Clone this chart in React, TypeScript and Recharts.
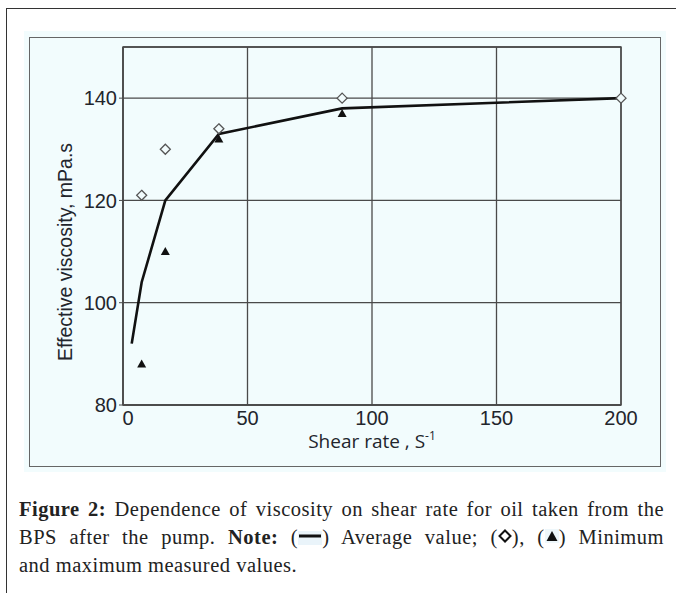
import React from "react"
import { ComposedChart, Line, Scatter, XAxis, YAxis, CartesianGrid, ReferenceArea } from "recharts"

// Average viscosity curve (solid line)
const avgShear = [3.5, 7.5, 17, 38.5, 88, 200]
const avgVisc = [92, 104, 120, 133, 138, 140]

// Maximum measured values (open diamonds)
const maxShear = [7.5, 17, 38.5, 88, 200]
const maxVisc = [121, 130, 134, 140, 140]

// Minimum measured values (filled triangles)
const minShear = [7.5, 17, 38.5, 88]
const minVisc = [88, 110, 132, 137]

const xTicks = [0, 50, 100, 150, 200]
const yTicks = [80, 100, 120, 140]

const avgData = avgShear.map((x, i) => ({ x, y: avgVisc[i] }))
const maxData = maxShear.map((x, i) => ({ x, y: maxVisc[i] }))
const minData = minShear.map((x, i) => ({ x, y: minVisc[i] }))

const gridColor = "#4a4a4a"
const textColor = "#22252c"

const Diamond = (props: any) => {
  const { cx, cy } = props
  const r = 5
  return (
    <path
      d={`M${cx},${cy - r} L${cx + r},${cy} L${cx},${cy + r} L${cx - r},${cy} Z`}
      fill="#f2fcfd"
      stroke="#555"
      strokeWidth={1.3}
    />
  )
}

const Triangle = (props: any) => {
  const { cx, cy } = props
  return <path d={`M${cx},${cy - 4.5} L${cx + 4.5},${cy + 3.5} L${cx - 4.5},${cy + 3.5} Z`} fill="#111" />
}

const XTitle = () => (
  <text x={372} y={448} textAnchor="middle" fontFamily="'Open Sans', sans-serif" fontSize={19} fill={textColor}>
    Shear rate , S
    <tspan fontSize={12} dy={-8}>-1</tspan>
  </text>
)

const YTitle = () => (
  <text
    x={72}
    y={252}
    transform="rotate(-90 72 252)"
    textAnchor="middle"
    fontFamily="'Liberation Sans', Arial, sans-serif"
    fontSize={19.5}
    fill={textColor}
  >
    Effective viscosity, mPa.s
  </text>
)

const XTick = (props: any) => {
  const { x, y, payload } = props
  // first label sits a little to the right of its tick, as in the source figure
  const shift = payload.value === 0 ? 5 : 0
  return (
    <text
      x={x + shift}
      y={y + 14}
      textAnchor="middle"
      fill={textColor}
      fontSize={20}
      fontFamily="'Liberation Sans', Arial, sans-serif"
    >
      {payload.value}
    </text>
  )
}

function Chart() {
  return (
    <ComposedChart width={676} height={470} margin={{ top: 47, right: 55, bottom: 0, left: 0 }}>
      <CartesianGrid stroke={gridColor} strokeWidth={1.3} fill="none" />
      <ReferenceArea x1={0} x2={200} y1={80} y2={150} fill="none" stroke={gridColor} strokeWidth={1.4} />
      <XAxis
        type="number"
        dataKey="x"
        domain={[0, 200]}
        ticks={xTicks}
        height={65}
        tickLine={false}
        axisLine={{ stroke: gridColor, strokeWidth: 1.4 }}
        tick={<XTick />}
        tickMargin={0}
        label={{ content: () => <XTitle /> }}
      />
      <YAxis
        type="number"
        dataKey="y"
        domain={[80, 150]}
        ticks={yTicks}
        width={123}
        tickSize={4}
        tickLine={{ stroke: gridColor }}
        axisLine={{ stroke: gridColor, strokeWidth: 1.4 }}
        tick={{ fill: textColor, fontSize: 20, fontFamily: "'Liberation Sans', Arial, sans-serif" }}
        label={{ content: () => <YTitle /> }}
      />
      <Line
        data={avgData}
        dataKey="y"
        type="linear"
        stroke="#111"
        strokeWidth={2.6}
        dot={false}
        activeDot={false}
        isAnimationActive={false}
      />
      <Scatter data={maxData} dataKey="y" shape={<Diamond />} isAnimationActive={false} />
      <Scatter data={minData} dataKey="y" shape={<Triangle />} isAnimationActive={false} />
    </ComposedChart>
  )
}

const lineStyle: React.CSSProperties = { textAlign: "justify", textAlignLast: "justify", whiteSpace: "nowrap" }

export default function App() {
  return (
    <div style={{ position: "absolute", left: 0, top: 0, width: 676, height: 593, background: "#fff", overflow: "hidden" }}>
      <div
        style={{
          position: "absolute",
          left: 6,
          top: 8,
          width: 700,
          height: 600,
          borderTop: "1.5px solid #333",
          borderLeft: "1.5px solid #333",
        }}
      />
      <div style={{ position: "absolute", left: 24, top: 31, width: 642, height: 441, background: "#f2fcfd" }} />
      <div
        style={{
          position: "absolute",
          left: 29,
          top: 37,
          width: 632,
          height: 430,
          border: "1.5px solid #666",
          boxSizing: "border-box",
        }}
      />
      <div style={{ position: "absolute", left: 0, top: 0 }}>
        <Chart />
      </div>
      <div
        style={{
          position: "absolute",
          left: 19,
          top: 495,
          width: 645,
          fontFamily: "'Liberation Serif', 'Times New Roman', serif",
          fontSize: 20.5,
          letterSpacing: "0.5px",
          lineHeight: "28px",
          color: "#222",
        }}
      >
        <div style={lineStyle}>
          <b>Figure 2:</b> Dependence of viscosity on shear rate for oil taken from the
        </div>
        <div style={lineStyle}>
          BPS after the pump. <b>Note:</b> (
          <svg width={24} height={14} style={{ verticalAlign: "-1px" }}>
            <rect x={0} y={0} width={24} height={14} fill="#eaf4fa" />
            <line x1={1} y1={5} x2={23} y2={5} stroke="#111" strokeWidth={3} />
          </svg>
          ) Average value; (
          <svg width={14} height={14} style={{ verticalAlign: "1px" }}>
            <path d="M7,1.5 L12.5,7 L7,12.5 L1.5,7 Z" fill="none" stroke="#111" strokeWidth={2} />
          </svg>
          ), (
          <svg width={14} height={14} style={{ verticalAlign: "1px" }}>
            <rect x={0} y={0} width={14} height={14} fill="#eef7fb" />
            <path d="M7,2 L12.5,12 L1.5,12 Z" fill="#111" />
          </svg>
          ) Minimum
        </div>
        <div>and maximum measured values.</div>
      </div>
    </div>
  )
}
